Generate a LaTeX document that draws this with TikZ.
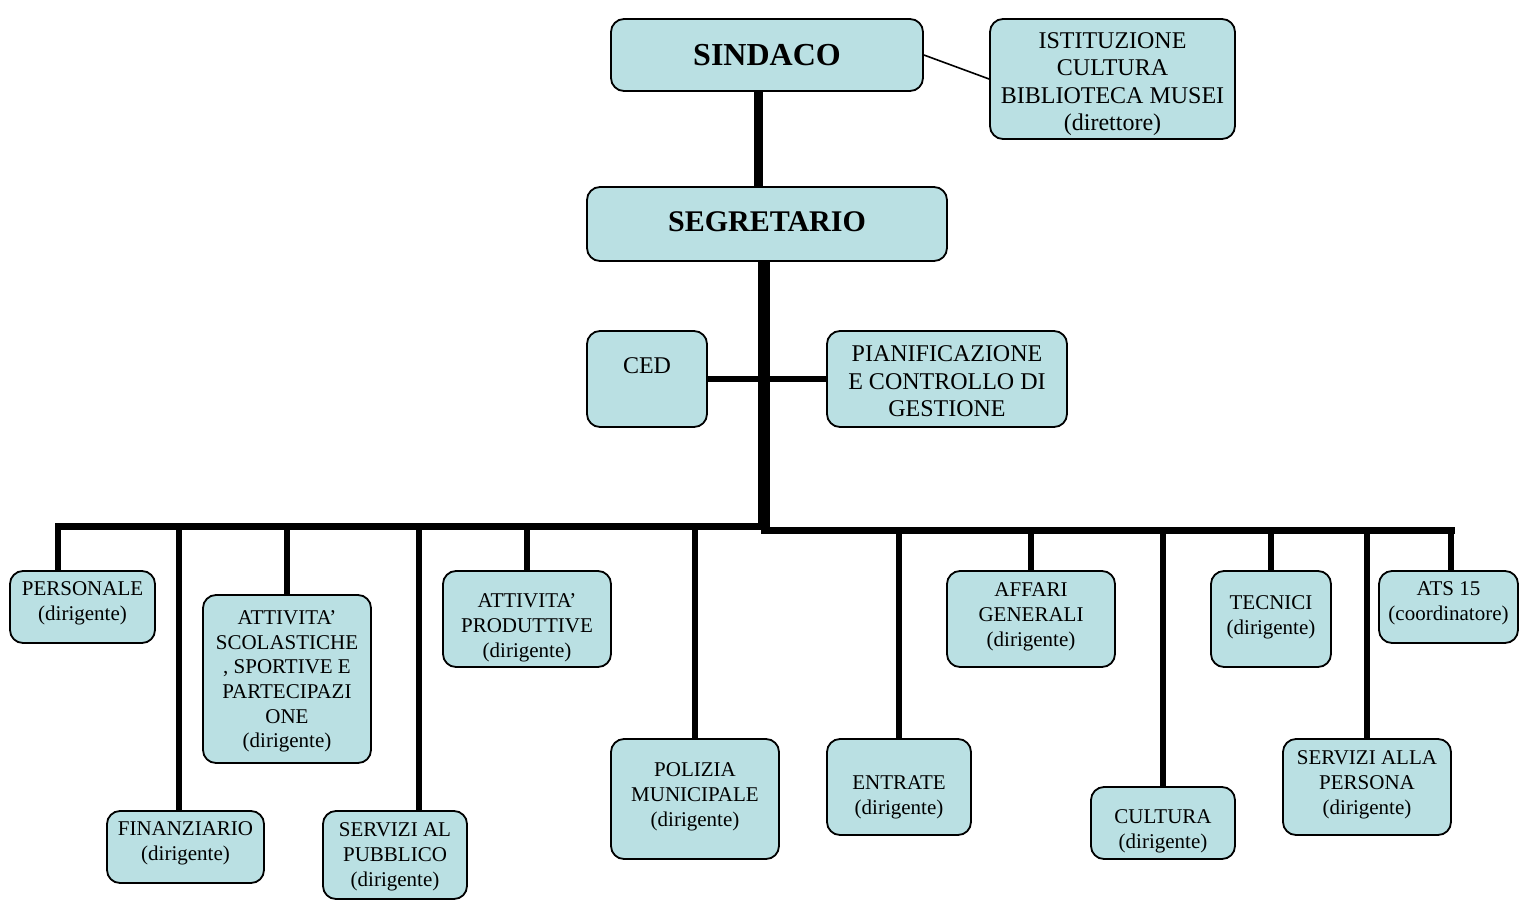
\documentclass[tikz,border=0pt]{standalone}
\usepackage{fontspec}
\setmainfont{Liberation Serif}
\definecolor{boxblue}{RGB}{186,224,227}
\begin{document}
\begin{tikzpicture}[x=1pt,y=-1pt,
 box/.style={draw=black, line width=1.8pt, fill=boxblue, rounded corners=13pt, inner sep=0pt},
 txt/.style={align=center, inner sep=0pt, yshift=-3pt, font=\fontsize{21}{25}\selectfont},
 txtL/.style={align=center, inner sep=0pt, yshift=-3pt, font=\fontsize{24}{27.5}\selectfont},
 ttl/.style={inner sep=0pt, font=\fontsize{32}{36}\selectfont\bfseries},
 bus/.style={line width=7pt},
 drop/.style={line width=5.5pt},
 trunk/.style={line width=6pt},
 toptrunk/.style={line width=9pt},
 side/.style={line width=5.5pt},
 link/.style={line width=1.6pt}
]
\useasboundingbox (0,0) rectangle (1519,900);

% ---------- boxes ----------
\node[box, minimum width=312pt, minimum height=72pt] (sind) at (767,55) {};
\node[box, minimum width=245pt, minimum height=120pt] (ist) at (1112.5,79) {};
\node[box, minimum width=360pt, minimum height=74pt] (seg) at (767,224) {};
\node[box, minimum width=120pt, minimum height=96pt] (ced) at (647,379) {};
\node[box, minimum width=240pt, minimum height=96pt] (pian) at (947,379) {};

\node[box, minimum width=145pt, minimum height=72pt] (per) at (82.5,607) {};
\node[box, minimum width=157pt, minimum height=72pt] (fin) at (185.5,847) {};
\node[box, minimum width=168pt, minimum height=168pt] (scol) at (287,679) {};
\node[box, minimum width=144pt, minimum height=88pt] (pub) at (395,855) {};
\node[box, minimum width=168pt, minimum height=96pt] (prod) at (527,619) {};
\node[box, minimum width=168pt, minimum height=120pt] (pol) at (695,799) {};
\node[box, minimum width=144pt, minimum height=96pt] (ent) at (899,787) {};
\node[box, minimum width=168pt, minimum height=96pt] (aff) at (1031,619) {};
\node[box, minimum width=144pt, minimum height=72pt] (cul) at (1163,823) {};
\node[box, minimum width=120pt, minimum height=96pt] (tec) at (1271,619) {};
\node[box, minimum width=168pt, minimum height=96pt] (pers) at (1367,787) {};
\node[box, minimum width=139pt, minimum height=72pt] (ats) at (1448.5,607) {};

% ---------- texts ----------
\node[ttl] (sindT) at (767,55) {SINDACO};
\node[txtL] (istT) at (1112.5,81) {ISTITUZIONE\\CULTURA\\BIBLIOTECA MUSEI\\(direttore)};
\node[ttl, font=\fontsize{30}{34}\selectfont\bfseries] (segT) at (767,222) {SEGRETARIO};
\node[txtL] (cedT) at (647,363) {CED};
\node[txtL] (pianT) at (947,378.5) {PIANIFICAZIONE\\E CONTROLLO DI\\GESTIONE};

\node[txt] (perT) at (82.5,600.5) {PERSONALE\\(dirigente)};
\node[txt] (finT) at (185.5,840.5) {FINANZIARIO\\(dirigente)};
\node[txt, font=\fontsize{21}{24.6}\selectfont] (scolT) at (287,678.5) {ATTIVITA’\\SCOLASTICHE\\, SPORTIVE E\\PARTECIPAZI\\ONE\\(dirigente)};
\node[txt] (pubT) at (395,854) {SERVIZI AL\\PUBBLICO\\(dirigente)};
\node[txt] (prodT) at (527,624.5) {ATTIVITA’\\PRODUTTIVE\\(dirigente)};
\node[txt] (polT) at (695,794) {POLIZIA\\MUNICIPALE\\(dirigente)};
\node[txt] (entT) at (899,794.5) {ENTRATE\\(dirigente)};
\node[txt] (affT) at (1031,614) {AFFARI\\GENERALI\\(dirigente)};
\node[txt] (culT) at (1163,828.5) {CULTURA\\(dirigente)};
\node[txt] (tecT) at (1271,614.5) {TECNICI\\(dirigente)};
\node[txt] (persT) at (1367,782) {SERVIZI ALLA\\PERSONA\\(dirigente)};
\node[txt] (atsT) at (1448.5,600.5) {ATS 15\\(coordinatore)};

% ---------- trunk and buses ----------
\coordinate (tTop) at (758,0);
\coordinate (tL) at (761,0);
\coordinate (tR) at (767,0);
\coordinate (busLs) at (55,526);
\coordinate (busLe) at (764,526);
\coordinate (busRs) at (761,530);
\coordinate (busRe) at (1455,530);

\draw[toptrunk] (tTop |- sind.south) -- (tTop |- seg.north);
\draw[link] (sind.east) -- (ist.west);

\draw[trunk] (tL |- seg.south) -- (761,529.5);
\draw[trunk] (tR |- seg.south) -- (767,533.5);

\draw[side] (ced.east) -- (tL |- ced.east);
\draw[side] (tR |- pian.west) -- (pian.west);

\draw[bus] (busLs) -- (busLe);
\draw[bus] (busRs) -- (busRe);

% ---------- drops, left bus ----------
\coordinate (dPer) at (58,526);
\coordinate (dFin) at (179,526);
\coordinate (dScol) at (287,526);
\coordinate (dPub) at (419,526);
\coordinate (dProd) at (527,526);
\coordinate (dPol) at (695,526);
\draw[drop] (dPer) -- (dPer |- per.north);
\draw[drop] (dFin) -- (dFin |- fin.north);
\draw[drop] (dScol) -- (dScol |- scol.north);
\draw[drop] (dPub) -- (dPub |- pub.north);
\draw[drop] (dProd) -- (dProd |- prod.north);
\draw[drop] (dPol) -- (dPol |- pol.north);

% ---------- drops, right bus ----------
\coordinate (dEnt) at (899,530);
\coordinate (dAff) at (1031,530);
\coordinate (dCul) at (1163,530);
\coordinate (dTec) at (1271,530);
\coordinate (dPers) at (1367,530);
\coordinate (dAts) at (1451,530);
\draw[drop] (dEnt) -- (dEnt |- ent.north);
\draw[drop] (dAff) -- (dAff |- aff.north);
\draw[drop] (dCul) -- (dCul |- cul.north);
\draw[drop] (dTec) -- (dTec |- tec.north);
\draw[drop] (dPers) -- (dPers |- pers.north);
\draw[drop] (dAts) -- (dAts |- ats.north);
\end{tikzpicture}
\end{document}
